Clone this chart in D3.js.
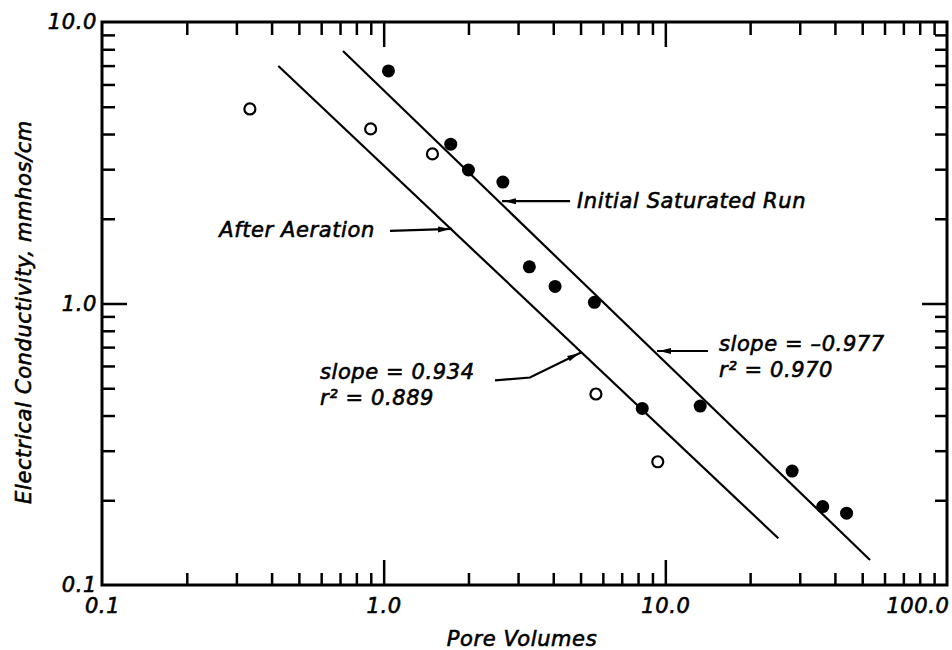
<!DOCTYPE html>
<html>
<head>
<meta charset="utf-8">
<script src="https://cdn.jsdelivr.net/npm/d3@7"></script>
<style>
  body { margin: 0; background: #fff; }
  text { font-family: "DejaVu Sans", sans-serif; font-style: italic; fill: #000;
         stroke: #000; stroke-width: 0.6px; letter-spacing: 0.6px; }
</style>
</head>
<body>
<div id="chart"></div>
<script>
// Initial saturated run (filled dots)
const poreSat = [1.04, 1.73, 2.00, 2.65, 3.29, 4.06, 5.60, 8.28, 13.3, 28.2, 36.2, 44.0];
const ecSat = [6.70, 3.68, 2.98, 2.70, 1.35, 1.15, 1.01, 0.424, 0.432, 0.254, 0.190, 0.180];
// after aeration (open dots)
const poreAer = [0.335, 0.899, 1.49, 5.67, 9.40];
const ecAer = [4.91, 4.17, 3.40, 0.477, 0.274];

// regression lines, end points
const fitSatX = [0.717, 53.3];
const fitSatY = [7.89, 0.1227];
const fitAerX = [0.4227, 25.18];
const fitAerY = [6.98, 0.1465];

const xLabels = [0.1, 1, 10, 100];
const yLabels = [0.1, 1, 10];

// annotations in data units
const notes = [
    { lines: ["Initial Saturated Run"], x: 4.86, y: 2.18, anchor: "start" },
    { lines: ["After Aeration"], x: 0.931, y: 1.723, anchor: "end" },
    { lines: ["slope = 0.934", "r\u00b2 = 0.889"], x: 0.594, y: 0.539, anchor: "start" },
    { lines: ["slope = \u20130.977", "r\u00b2 = 0.970"], x: 15.5, y: 0.678, anchor: "start" }
];
const arrows = [
    [[4.59, 2.31], [2.63, 2.31]],
    [[1.053, 1.81], [1.748, 1.84]],
    [[2.485, 0.533], [3.307, 0.546], [5.018, 0.670]],
    [[14.17, 0.678], [9.34, 0.678]]
];

const W = 952, H = 650;
const margin = { top: 22, right: 5, bottom: 65, left: 102 };
const w = W - margin.left - margin.right;
const h = H - margin.top - margin.bottom;

const svg = d3.select("#chart").append("svg")
    .attr("width", W)
    .attr("height", H);

const g = svg.append("g")
    .attr("transform", "translate(" + margin.left + "," + margin.top + ")");

const x = d3.scaleLog().domain([0.1, 100]).range([0, w]);
const y = d3.scaleLog().domain([0.1, 10]).range([h, 0]);

const decadeX = [1, 10];
const minorX = x.ticks().filter(d => !xLabels.includes(d));
const minorY = y.ticks().filter(d => !yLabels.includes(d));

function tickAxis(axis, vals, size) {
    return axis.tickValues(vals).tickSize(size).tickFormat("");
}

function styleTicks(sel) {
    sel.select(".domain").remove();
    sel.selectAll(".tick line").attr("stroke", "#000").attr("stroke-width", 2.5);
}

// bottom ticks (inward)
g.append("g").attr("transform", "translate(0," + h + ")")
    .call(tickAxis(d3.axisBottom(x), minorX, -12)).call(styleTicks);
g.append("g").attr("transform", "translate(0," + h + ")")
    .call(tickAxis(d3.axisBottom(x), decadeX, -25)).call(styleTicks);
// top ticks
g.append("g")
    .call(tickAxis(d3.axisTop(x), minorX, -13)).call(styleTicks);
g.append("g")
    .call(tickAxis(d3.axisTop(x), decadeX, -25)).call(styleTicks);
// left ticks
g.append("g")
    .call(tickAxis(d3.axisLeft(y), minorY, -13)).call(styleTicks);
g.append("g")
    .call(tickAxis(d3.axisLeft(y), [1], -25)).call(styleTicks);
// right ticks
g.append("g").attr("transform", "translate(" + w + ",0)")
    .call(tickAxis(d3.axisRight(y), minorY, -12)).call(styleTicks);
g.append("g").attr("transform", "translate(" + w + ",0)")
    .call(tickAxis(d3.axisRight(y), [1], -25)).call(styleTicks);

// frame
g.append("rect")
    .attr("x", 0).attr("y", 0)
    .attr("width", w).attr("height", h)
    .attr("fill", "none")
    .attr("stroke", "#000")
    .attr("stroke-width", 3);

// tick labels
const xAx = g.append("g").attr("transform", "translate(0," + h + ")")
    .call(d3.axisBottom(x).tickValues(xLabels).tickSize(0).tickPadding(13).tickFormat(d3.format(".1f")));
xAx.select(".domain").remove();
xAx.selectAll("text").attr("font-size", 21).attr("font-family", null);
xAx.selectAll(".tick").filter(d => d === 100).select("text")
    .attr("text-anchor", "end").attr("x", 2);

const yAx = g.append("g")
    .call(d3.axisLeft(y).tickValues(yLabels).tickSize(0).tickPadding(5).tickFormat(d3.format(".1f")));
yAx.select(".domain").remove();
yAx.selectAll("text").attr("font-size", 21).attr("font-family", null);

// axis titles
svg.append("text")
    .attr("x", 522).attr("y", 646)
    .attr("text-anchor", "middle")
    .attr("font-size", 21)
    .text("Pore Volumes");

svg.append("text")
    .attr("transform", "translate(31,312) rotate(-90)")
    .attr("text-anchor", "middle")
    .attr("font-size", 21)
    .text("Electrical Conductivity, mmhos/cm");

// fitted lines
const line = d3.line().x(d => x(d[0])).y(d => y(d[1]));
[[fitSatX, fitSatY], [fitAerX, fitAerY]].forEach(f => {
    g.append("path")
        .datum(d3.zip(f[0], f[1]))
        .attr("d", line)
        .attr("fill", "none")
        .attr("stroke", "#000")
        .attr("stroke-width", 2.2);
});

// points
g.selectAll("circle.sat")
    .data(d3.zip(poreSat, ecSat))
    .enter().append("circle")
    .attr("class", "sat")
    .attr("cx", d => x(d[0]))
    .attr("cy", d => y(d[1]))
    .attr("r", 6.5)
    .attr("fill", "#000");

g.selectAll("circle.aer")
    .data(d3.zip(poreAer, ecAer))
    .enter().append("circle")
    .attr("class", "aer")
    .attr("cx", d => x(d[0]))
    .attr("cy", d => y(d[1]))
    .attr("r", 5.5)
    .attr("fill", "#fff")
    .attr("stroke", "#000")
    .attr("stroke-width", 2.2);

// arrows
svg.append("defs").append("marker")
    .attr("id", "head")
    .attr("markerUnits", "userSpaceOnUse")
    .attr("viewBox", "0 -4 16 8")
    .attr("refX", 14).attr("refY", 0)
    .attr("markerWidth", 16).attr("markerHeight", 8)
    .attr("orient", "auto")
    .append("path")
    .attr("d", "M0,-3L12,0L0,3Z")
    .attr("fill", "#000");

g.selectAll("path.arrow")
    .data(arrows)
    .enter().append("path")
    .attr("class", "arrow")
    .attr("d", line)
    .attr("fill", "none")
    .attr("stroke", "#000")
    .attr("stroke-width", 2.2)
    .attr("marker-end", "url(#head)");

// annotation text
notes.forEach(n => {
    const t = g.append("text")
        .attr("x", x(n.x))
        .attr("y", y(n.y))
        .attr("text-anchor", n.anchor)
        .attr("font-size", 21);
    n.lines.forEach((s, i) => {
        t.append("tspan")
            .attr("x", x(n.x))
            .attr("dy", i === 0 ? 0 : 26)
            .text(s);
    });
});
</script>
</body>
</html>
